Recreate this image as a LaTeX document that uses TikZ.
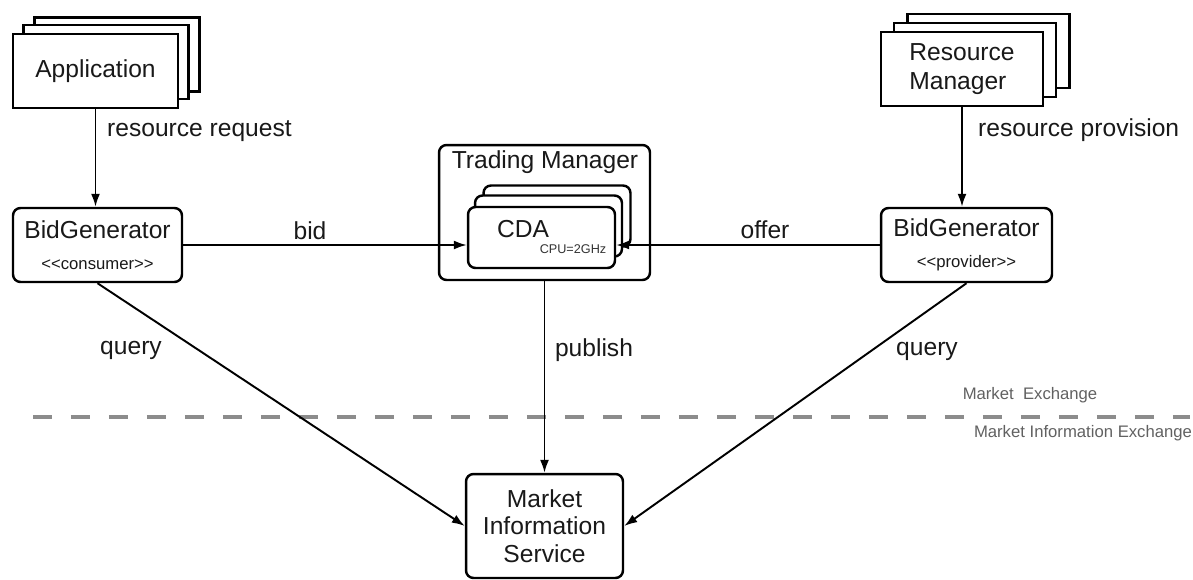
\documentclass[tikz,border=0pt]{standalone}
\usepackage{fontspec}
\setmainfont{Liberation Sans}
\usepackage{tikz}
\usetikzlibrary{arrows.meta}
\tikzstyle{stackblock} = [draw, fill=white, line width=1.4pt, minimum width=3.3cm, minimum height=1.48cm, inner sep=0pt]
\tikzstyle{roundblock} = [draw, fill=white, line width=1.4pt, rounded corners=1.5mm, align=center, inner sep=0pt]
\tikzstyle{tinytext} = [font=\fontsize{7.2}{9}\selectfont, text=black!80]
\tikzstyle{zonetext} = [font=\fontsize{9.5}{11}\selectfont, text=black!62]

\begin{document}
\begin{tikzpicture}[x=0.02cm, y=-0.02cm, >={Latex[length=2.6mm,width=1.8mm]}, font=\fontsize{14}{16.5}\selectfont, text=black!90]
      \useasboundingbox (0,0) rectangle (1193,579);
      % market separator
      \coordinate (sepl) at (33,417);
      \coordinate (sepr) at (1190,417);
      \draw[black!45, line width=2.8pt, dash pattern=on 0.38cm off 0.38cm] (sepl) -- (sepr);
      \node[zonetext] (mex) at (1030,395) {Market~~Exchange};
      \node[zonetext] (miex) at (1083,433) {Market Information Exchange};

      % application stack
      \node[stackblock] (app3) at (117,54.5) {};
      \node[stackblock] (app2) at (106,62) {};
      \node[stackblock] (app1) at (95.5,71) {Application};
      % resource manager stack
      \node[stackblock, minimum width=3.24cm] (rm3) at (988.5,51) {};
      \node[stackblock, minimum width=3.24cm] (rm2) at (975,60) {};
      \node[stackblock, minimum width=3.24cm, align=left] (rm1) at (962,69) {Resource\\Manager};

      % bid generators
      \node[roundblock, minimum width=3.38cm, minimum height=1.48cm] (bgc) at (97.5,245) {BidGenerator\\[1pt]{\fontsize{9.5}{11}\selectfont <\kern0pt<consumer>\kern0pt>}};
      \node[roundblock, minimum width=3.42cm, minimum height=1.48cm] (bgp) at (966.5,245) {BidGenerator\\[1pt]{\fontsize{9.5}{11}\selectfont <\kern0pt<provider>\kern0pt>}};

      % trading manager with CDA stack
      \node[roundblock, minimum width=4.22cm, minimum height=2.7cm] (tm) at (544.5,212.5) {};
      \node (tmtitle) at (545,162) {Trading Manager};
      \node[roundblock, minimum width=2.94cm, minimum height=1.22cm] (cda3) at (557,216) {};
      \node[roundblock, minimum width=2.94cm, minimum height=1.22cm] (cda2) at (548.5,226) {};
      \node[roundblock, minimum width=2.94cm, minimum height=1.22cm] (cda1) at (541.5,237.5) {};
      \node (cdatxt) at (523,229) {CDA};
      \node[tinytext] (cpu) at (573,249) {CPU=2GHz};

      % market information service
      \node[roundblock, minimum width=3.14cm, minimum height=2.08cm] (mis) at (544.5,526) {Market\\[-1pt]Information\\[-1pt]Service};

      % connectors
      \draw[->, line width=1.1pt] (app1.south) -- (app1.south |- bgc.north);
      \node[anchor=west] (reqlbl) at (101,131) {resource request};
      \draw[->, line width=1.1pt] (rm1.south) -- (rm1.south |- bgp.north);
      \node[anchor=west] (provlbl) at (972,130) {resource provision};
      \draw[->, line width=1.1pt] (bgc.east) -- (bgc.east -| cda1.west);
      \node (bidlbl) at (310,231) {bid};
      \draw[->, line width=1.1pt] (bgp.west) -- (bgp.west -| cda1.east);
      \node (offerlbl) at (765,230) {offer};
      \draw[->, line width=1.1pt] (tm.south) -- (tm.south |- mis.north);
      \node (publbl) at (594,350) {publish};
      \draw[->, line width=1.1pt] (bgc.south) -- (mis.west);
      \node (qlbl1) at (131,350) {query};
      \draw[->, line width=1.1pt] (bgp.south) -- (mis.east);
      \node (qlbl2) at (927,351) {query};
\end{tikzpicture}
\end{document}
